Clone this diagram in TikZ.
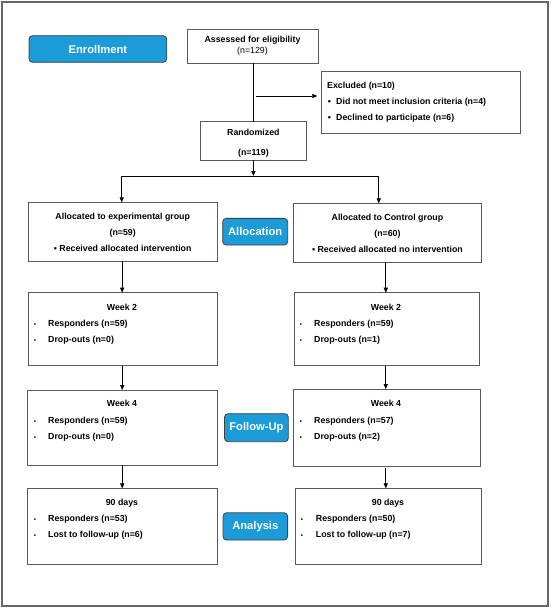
\documentclass[tikz,border=0pt]{standalone}
\usepackage{fontspec}
\setmainfont{Liberation Sans}
\usetikzlibrary{arrows.meta}
\definecolor{pillblue}{HTML}{1B9BD8}
\definecolor{boxgray}{HTML}{5A5A5A}
\begin{document}
\begin{tikzpicture}[x=1pt,y=-1pt,
  box/.style={draw=boxgray,line width=0.8pt,fill=white,inner sep=0pt,outer sep=0pt},
  pill/.style={draw=black!75,line width=0.8pt,fill=pillblue,rounded corners=3.5pt,inner sep=0pt,outer sep=0pt,
     text=white,font=\fontsize{11.2}{13}\selectfont\bfseries},
  txt/.style={inner sep=0pt,anchor=mid,font=\fontsize{8.8}{10}\selectfont\bfseries},
  ltxt/.style={txt,anchor=mid west},
  bul/.style={inner sep=0pt,anchor=mid,font=\fontsize{6}{7}\selectfont},
  bigbul/.style={inner sep=0pt,anchor=mid,font=\fontsize{8.8}{10}\selectfont},
  line/.style={draw=black,line width=0.7pt},
  arr/.style={line,-{Triangle[length=5pt,width=4.2pt]}}]
\useasboundingbox (0,0) rectangle (550,608);
\draw[draw=black!60,line width=1.3pt] (2,2) rectangle (548,606);

% boxes
\node[box,minimum width=131pt,minimum height=34.3pt] (assess) at (253,46.2) {};
\node[box,minimum width=198.3pt,minimum height=62pt] (excl) at (420.9,102) {};
\node[box,minimum width=105.3pt,minimum height=38.3pt] (rand) at (253.4,140.9) {};
\node[box,minimum width=189.5pt,minimum height=59pt] (alL) at (122.75,231.8) {};
\node[box,minimum width=188.4pt,minimum height=58.7pt] (alR) at (387.4,232.7) {};
\node[box,minimum width=189.5pt,minimum height=73pt] (w2L) at (122.75,329.2) {};
\node[box,minimum width=185.8pt,minimum height=73pt] (w2R) at (386.9,329.2) {};
\node[box,minimum width=190.4pt,minimum height=75.3pt] (w4L) at (122.6,427.7) {};
\node[box,minimum width=187pt,minimum height=77pt] (w4R) at (386.7,427.5) {};
\node[box,minimum width=190.4pt,minimum height=75.7pt] (dL) at (122.6,526.2) {};
\node[box,minimum width=185.9pt,minimum height=75.7pt] (dR) at (388.3,526.2) {};

% pills
\node[pill,minimum width=137.7pt,minimum height=26.6pt] (enr) at (97.9,49) {Enrollment};
\node[pill,minimum width=65pt,minimum height=26.7pt] (alloc) at (255.2,231.7) {Allocation};
\node[pill,minimum width=63.8pt,minimum height=28pt] (fu) at (256.4,427.7) {Follow-Up};
\node[pill,minimum width=64.6pt,minimum height=27.3pt] (an) at (255.3,526.4) {Analysis};

% texts
\node[txt] (t1) at (252.5,40) {Assessed for eligibility};
\node[txt,font=\fontsize{8.8}{10}\selectfont] (t2) at (252.5,51) {(n=129)};
\node[ltxt] (t3) at (327,85.7) {Excluded (n=10)};
\node[bigbul] (b1) at (329.5,102.3) {▪};
\node[ltxt] (t4) at (336,102.3) {Did not meet inclusion criteria (n=4)};
\node[bigbul] (b2) at (329.5,117.7) {▪};
\node[ltxt] (t5) at (336,117.7) {Declined to participate (n=6)};
\node[txt] (t6) at (253.4,133.3) {Randomized};
\node[txt] (t7) at (253.4,153.3) {(n=119)};

\node[txt] (t8) at (122.7,216.7) {Allocated to experimental group};
\node[txt] (t9) at (122.7,232.7) {(n=59)};
\node[txt] (t10) at (122.7,248.7) {▪ Received allocated intervention};
\node[txt] (t11) at (387.4,217.7) {Allocated to Control group};
\node[txt] (t12) at (387.4,233.7) {(n=60)};
\node[txt] (t13) at (387.4,249.7) {▪ Received allocated no intervention};

\node[txt] (t14) at (122,307.7) {Week 2};
\node[bul] (b3) at (35,324) {▪};
\node[ltxt] (t15) at (48,324) {Responders (n=59)};
\node[bul] (b4) at (35,340) {▪};
\node[ltxt] (t16) at (48,340) {Drop-outs (n=0)};
\node[txt] (t17) at (386,307.7) {Week 2};
\node[bul] (b5) at (301,324) {▪};
\node[ltxt] (t18) at (314,324) {Responders (n=59)};
\node[bul] (b6) at (301,340) {▪};
\node[ltxt] (t19) at (314,340) {Drop-outs (n=1)};

\node[txt] (t20) at (122,404) {Week 4};
\node[bul] (b7) at (35,420.7) {▪};
\node[ltxt] (t21) at (48,420.7) {Responders (n=59)};
\node[bul] (b8) at (35,436.7) {▪};
\node[ltxt] (t22) at (48,436.7) {Drop-outs (n=0)};
\node[txt] (t23) at (386,404) {Week 4};
\node[bul] (b9) at (301,420.7) {▪};
\node[ltxt] (t24) at (314,420.7) {Responders (n=57)};
\node[bul] (b10) at (301,436.7) {▪};
\node[ltxt] (t25) at (314,436.7) {Drop-outs (n=2)};

\node[txt] (t26) at (122,503.3) {90 days};
\node[bul] (b11) at (35,519.3) {▪};
\node[ltxt] (t27) at (48,519.3) {Responders (n=53)};
\node[bul] (b12) at (35,535.3) {▪};
\node[ltxt] (t28) at (48,535.3) {Lost to follow-up (n=6)};
\node[txt] (t29) at (388,503.3) {90 days};
\node[bul] (b13) at (302,519.3) {▪};
\node[ltxt] (t30) at (315.7,519.3) {Responders (n=50)};
\node[bul] (b14) at (302,535.3) {▪};
\node[ltxt] (t31) at (315.7,535.3) {Lost to follow-up (n=7)};

% connectors
\draw[line] (rand.north |- assess.south) -- (rand.north);
\coordinate (ex0) at (256,96);
\draw[arr,shorten >=4.5pt] (ex0) -- (ex0 -| excl.west);
\coordinate (split) at (253.4,176);
\coordinate (sL) at (121.7,176);
\coordinate (sR) at (378.8,176);
\draw[arr] (rand.south) -- (split);
\draw[line] (sL) -- (sR);
\draw[arr] (sL) -- (sL |- alL.north);
\draw[arr] (sR) -- (sR |- alR.north);

\coordinate (cL) at (122.2,0);
\coordinate (cR) at (385.8,0);
\draw[arr] (cL |- alL.south) -- (cL |- w2L.north);
\draw[arr] (cR |- alR.south) -- (cR |- w2R.north);
\draw[arr] (cL |- w2L.south) -- (cL |- w4L.north);
\draw[arr] (cR |- w2R.south) -- (cR |- w4R.north);
\draw[arr] (cL |- w4L.south) -- (cL |- dL.north);
\draw[arr,shorten <=2pt] (cR |- w4R.south) -- (cR |- dR.north);
\end{tikzpicture}
\end{document}
